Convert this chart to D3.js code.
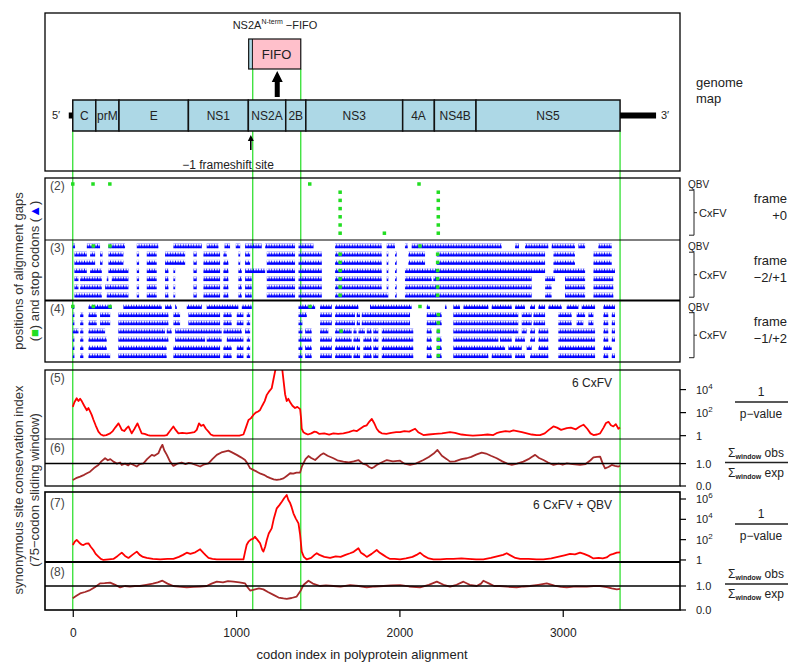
<!DOCTYPE html>
<html><head><meta charset="utf-8">
<script src="https://cdn.jsdelivr.net/npm/d3@7"></script>
<style>body{margin:0;background:#fff} svg{display:block;font-family:"Liberation Sans",Arial,sans-serif}</style>
</head><body><svg id="c" width="800" height="668"></svg>
<script>
// ---------------- data ----------------
const genes = ["C","prM","E","NS1","NS2A","2B","NS3","4A","NS4B","NS5"];
const geneStarts = [0,141,283,708,1075,1304,1427,2020,2214,2469];
const geneEnd = 3351;
const fifoStart = 1077, fifoPink = 1100, fifoEnd = 1396;
const bigArrowCodon = 1252, frameshiftCodon = 1090;
const markerCodons = [0,1102,1396,3351];
const xTicks = [0,1000,2000,3000];
const rowNames = ["QBV","CxFV","CxFV","CxFV","CxFV","CxFV","CxFV"];
const frameLabels = [["frame","+0"],["frame","\u22122/+1"],["frame","\u22121/+2"]];

// stop codons: [row, codon]
const stopsFrame0 = [[0,0],[0,124],[0,227],[0,1451],[0,2120],
  [1,1637],[2,1637],[3,1637],[4,1637],[5,1637],[6,1637],[6,1908],
  [1,2238],[2,2238],[3,2238],[4,2238],[5,2238],[6,2238]];
const stopsFrame21 = [[0,126],[0,228],[0,2126],
  [1,1637],[2,1637],[3,1637],[4,1637],[5,1637],[6,1637],
  [1,2234],[2,2234],[3,2234],[4,2234],[5,2234],[6,2234]];
const stopsFrame12 = [[0,0],[0,126],[0,228],[0,1453],[0,2126],[3,1643],
  [1,2238],[2,2238],[3,2238],[4,2238],[5,2238],[6,2238]];

// alignment gap runs [startCodon, endCodon] per row
const gapsFrame21 = [
 [[0,14],[86,167],[218,320],[392,524],[616,790],[820,892],[929,963],[998,1025],[1055,1157],[1178,1361],[1382,1474],[1606,1892],[1922,1973],[2034,2051],[2075,2626],[2708,2732],[2769,2912],[2932,3075],[3096,3137],[3218,3300]],
 [[10,86],[106,137],[167,182],[218,310],[392,406],[453,514],[565,688],[739,759],[800,902],[922,943],[1014,1025],[1055,1086],[1188,1361],[1382,1525],[1606,1892],[1922,1932],[1973,1983],[2055,2157],[2228,2892],[2943,3075],[3188,3300]],
 [[10,137],[167,182],[218,310],[392,406],[453,514],[565,688],[739,759],[800,902],[922,953],[1014,1025],[1055,1086],[1188,1361],[1382,1525],[1606,1892],[1922,1932],[1973,1983],[2055,2157],[2228,2892],[2943,3075],[3188,3300]],
 [[10,86],[106,178],[218,341],[392,406],[453,514],[565,586],[616,627],[739,759],[800,902],[922,953],[1014,1035],[1055,1178],[1188,1361],[1382,1525],[1606,1892],[1922,1932],[1973,1983],[2034,2892],[2943,3137],[3188,3320]],
 [[10,35],[45,178],[208,218],[239,341],[392,406],[453,514],[565,586],[616,627],[739,759],[800,902],[922,953],[1014,1035],[1055,1096],[1188,1361],[1382,1525],[1606,1892],[1922,1932],[1973,1983],[2034,2198],[2208,2810],[2892,2953],[3014,3137],[3188,3310]],
 [[10,35],[45,178],[198,341],[392,406],[453,514],[565,586],[616,627],[739,759],[800,902],[922,953],[1014,1035],[1055,1096],[1188,1361],[1382,1525],[1606,1892],[1922,1932],[1973,1983],[2034,2810],[2892,2932],[3014,3137],[3188,3310]],
 [[10,178],[208,341],[392,406],[453,514],[565,586],[616,627],[739,759],[800,902],[922,953],[1014,1035],[1055,1096],[1188,1361],[1382,1525],[1606,1932],[1973,1983],[2034,2810],[2892,2932],[3014,3137],[3188,3310]]
];
const gapsFrame12 = [
 [[0,4],[96,239],[310,545],[565,606],[627,637],[698,790],[820,1014],[1035,1096],[1382,1484],[1514,1586],[1606,1749],[1820,2075],[2167,2187],[2279,2289],[2330,2371],[2392,2545],[2565,2688],[2708,2769],[2800,2830],[2851,2892],[2912,2994],[3024,3096],[3116,3198],[3249,3320]],
 [[0,10],[45,65],[96,147],[167,229],[279,586],[616,657],[708,902],[922,973],[1004,1045],[1065,1086],[1382,1433],[1514,1586],[1606,1728],[1738,1759],[1769,2065],[2167,2259],[2330,2728],[2749,2810],[2820,2892],[2973,3055],[3085,3137],[3157,3188],[3249,3279],[3300,3320]],
 [[0,10],[45,65],[96,147],[167,229],[279,586],[616,657],[708,902],[922,973],[1004,1045],[1065,1086],[1382,1406],[1514,1586],[1606,1728],[1738,1759],[1769,2065],[2167,2259],[2330,2728],[2749,2810],[2820,2892],[2973,3055],[3085,3126],[3157,3188],[3249,3279],[3300,3320]],
 [[0,35],[45,65],[96,198],[279,565],[575,606],[627,912],[922,1035],[1055,1086],[1382,1406],[1423,1463],[1514,1565],[1606,1708],[1718,1738],[1749,1789],[1800,1830],[1840,1871],[1892,2085],[2167,2198],[2228,2249],[2330,2728],[2749,2779],[2800,2830],[2851,2912],[2973,3198],[3249,3279],[3300,3320]],
 [[0,10],[45,65],[96,208],[279,586],[627,810],[820,912],[943,1045],[1065,1086],[1382,1463],[1514,1586],[1606,1708],[1718,1759],[1779,1830],[1840,1871],[1892,2085],[2167,2198],[2228,2259],[2330,2606],[2616,2688],[2708,2769],[2800,2830],[2851,2912],[2973,3198],[3249,3279],[3300,3320]],
 [[0,10],[45,65],[96,208],[279,575],[616,902],[922,973],[1004,1045],[1065,1086],[1382,1406],[1423,1463],[1514,1586],[1606,1728],[1738,1759],[1779,1830],[1840,1871],[1892,2085],[2167,2198],[2228,2259],[2330,2647],[2667,2749],[2779,2810],[2851,2912],[2973,3198],[3249,3300]],
 [[0,10],[45,65],[96,229],[279,575],[616,902],[922,973],[1004,1045],[1065,1086],[1382,1406],[1423,1463],[1514,1586],[1606,1708],[1718,1759],[1779,1830],[1840,1871],[1892,2085],[2167,2198],[2228,2259],[2330,2545],[2565,2688],[2708,2769],[2800,2912],[2973,3198],[3249,3279],[3300,3320]]
];

// panel 5: log10(1/p-value), 6 CxFV
const pval6 = [[0,2.5],[10,2.9],[24,3.25],[35,3.0],[45,3.2],[55,3.0],[70,2.6],[86,2.2],[96,2.4],[106,2.1],[116,1.8],[126,1.4],[140,0.9],[157,0.35],[172,0.1],[188,0],[205,0.05],[229,0.2],[245,0.4],[260,0.7],[280,1.07],[290,0.8],[300,0.5],[315,0.4],[330,0.65],[341,0.8],[351,0.5],[361,0.2],[378,0.6],[396,1.07],[410,0.6],[422,0.2],[440,0.15],[460,0.05],[473,0],[500,0],[535,0],[560,0],[576,0.05],[595,0.4],[616,0.8],[630,0.5],[647,0.2],[670,0.25],[698,0.2],[720,0.25],[745,0.3],[759,0.5],[773,1.07],[786,0.85],[800,0.95],[815,0.6],[831,0.35],[845,0.1],[861,0],[900,0],[950,0],[984,0],[1020,0],[1045,0.1],[1060,0.7],[1076,1.36],[1090,1.5],[1106,1.8],[1120,2.0],[1135,2.1],[1147,2.23],[1160,2.6],[1175,3.0],[1188,3.54],[1200,3.8],[1218,4.12],[1229,4.9],[1239,5.6],[1250,6.2],[1265,5.9],[1280,6.1],[1290,4.84],[1300,3.6],[1310,3.0],[1320,3.2],[1331,2.9],[1345,2.6],[1361,2.4],[1375,2.5],[1392,2.3],[1398,1.5],[1402,0.6],[1412,0.3],[1423,0.2],[1440,0.1],[1460,0.2],[1480,0.35],[1494,0.3],[1510,0.15],[1540,0.2],[1570,0.1],[1596,0.2],[1625,0.15],[1657,0.2],[1690,0.3],[1718,0.45],[1740,0.4],[1760,0.6],[1780,0.8],[1800,0.9],[1815,1.2],[1831,1.45],[1845,1.1],[1861,0.6],[1875,0.35],[1892,0.2],[1920,0.15],[1950,0.25],[1980,0.3],[2004,0.3],[2030,0.4],[2060,0.35],[2096,0.6],[2115,0.3],[2147,0.05],[2180,0.1],[2220,0.15],[2260,0.2],[2310,0.3],[2340,0.25],[2380,0.1],[2412,0.05],[2450,0],[2500,0.05],[2540,0.1],[2575,0.05],[2600,0.25],[2616,0.3],[2650,0.4],[2675,0.35],[2698,0.45],[2720,0.4],[2750,0.3],[2780,0.2],[2810,0.1],[2840,0.05],[2861,0.05],[2890,0.2],[2915,0.5],[2943,0.8],[2965,0.7],[2990,0.5],[3025,0.65],[3050,0.7],[3080,0.55],[3105,0.8],[3127,0.95],[3150,0.6],[3170,0.2],[3188,0.05],[3210,0.1],[3229,0.2],[3250,0.7],[3265,1.1],[3280,1.2],[3295,0.9],[3310,0.8],[3325,1.0],[3341,0.6],[3351,0.7]];
// panel 6: obs/exp ratio, 6 CxFV
const ratio6 = [[0,0.27],[20,0.35],[45,0.42],[70,0.5],[90,0.58],[106,0.64],[130,0.8],[157,0.94],[175,1.1],[198,1.24],[215,1.15],[230,1.2],[249,1.09],[270,1.0],[290,1.05],[300,0.94],[320,1.0],[340,0.92],[351,1.01],[370,0.95],[392,0.87],[410,0.98],[433,1.01],[455,1.2],[470,1.3],[484,1.39],[500,1.35],[524,1.46],[538,1.7],[549,1.84],[560,1.6],[576,1.39],[595,1.1],[616,0.9],[640,1.0],[667,1.05],[690,0.98],[710,1.03],[729,1.01],[750,0.95],[780,0.87],[800,0.95],[831,1.01],[855,1.2],[882,1.39],[910,1.5],[935,1.55],[953,1.58],[975,1.5],[1004,1.39],[1030,1.28],[1055,1.16],[1070,1.0],[1086,0.79],[1105,0.72],[1127,0.64],[1150,0.55],[1170,0.5],[1188,0.42],[1210,0.35],[1230,0.3],[1249,0.27],[1270,0.3],[1290,0.34],[1310,0.45],[1331,0.57],[1350,0.55],[1370,0.6],[1392,0.6],[1402,0.85],[1412,1.01],[1425,1.2],[1443,1.34],[1460,1.25],[1484,1.16],[1505,1.3],[1520,1.4],[1535,1.46],[1560,1.35],[1596,1.24],[1620,1.15],[1657,1.09],[1690,1.05],[1720,1.1],[1749,1.16],[1775,1.0],[1800,0.94],[1815,0.85],[1831,0.79],[1845,0.85],[1861,0.94],[1890,1.05],[1923,1.16],[1960,1.1],[2004,1.13],[2030,1.0],[2065,0.94],[2100,1.0],[2147,1.16],[2180,1.3],[2210,1.45],[2233,1.61],[2260,1.35],[2290,1.2],[2310,1.09],[2340,1.1],[2380,1.2],[2412,1.24],[2440,1.3],[2470,1.4],[2504,1.49],[2530,1.45],[2560,1.35],[2596,1.24],[2630,1.1],[2660,1.0],[2688,0.94],[2720,1.0],[2759,1.09],[2790,1.2],[2810,1.3],[2831,1.39],[2855,1.25],[2882,1.16],[2910,1.05],[2943,0.94],[2975,1.0],[3000,0.95],[3025,1.01],[3060,0.98],[3106,0.94],[3140,0.98],[3170,1.15],[3188,1.28],[3210,1.3],[3229,1.31],[3245,1.0],[3259,0.79],[3280,0.85],[3300,0.94],[3320,0.9],[3341,0.87],[3351,0.9]];
// panel 7: log10(1/p-value), 6 CxFV + QBV
const pval7 = [[0,1.47],[12,1.8],[24,1.97],[40,1.7],[55,1.5],[65,1.47],[80,1.6],[96,1.64],[110,1.3],[126,0.98],[140,0.6],[157,0.33],[172,0.1],[188,0],[220,0.05],[249,0.1],[275,0.4],[300,0.72],[320,0.4],[341,0.2],[365,0.5],[392,0.82],[410,0.5],[430,0.3],[453,0.2],[490,0.1],[535,0.05],[580,0.1],[616,0.1],[650,0.3],[675,0.5],[698,0.72],[720,0.6],[750,0.75],[765,0.9],[780,1.05],[800,0.7],[815,0.45],[831,0.2],[855,0.1],[882,0.05],[950,0.05],[1000,0.05],[1045,0.05],[1055,0.8],[1065,1.5],[1076,1.8],[1090,2.0],[1105,2.1],[1116,2.29],[1130,2.0],[1147,1.64],[1160,1.0],[1167,0.82],[1178,1.3],[1188,1.97],[1200,2.6],[1218,3.11],[1230,4.0],[1249,5.08],[1265,5.4],[1280,5.73],[1295,6.1],[1310,6.4],[1320,5.9],[1331,5.6],[1340,5.2],[1351,4.59],[1365,4.1],[1382,3.6],[1392,2.5],[1402,0.82],[1415,0.3],[1433,0.05],[1460,0.2],[1480,0.5],[1494,0.66],[1510,0.5],[1540,0.3],[1576,0.2],[1610,0.35],[1640,0.3],[1670,0.5],[1698,0.66],[1720,0.8],[1749,1.15],[1765,0.7],[1785,0.5],[1800,0.3],[1830,0.6],[1861,0.98],[1880,0.7],[1900,0.5],[1920,0.3],[1943,0.1],[1970,0.1],[2004,0.05],[2040,0.15],[2080,0.3],[2105,0.5],[2126,0.72],[2150,0.4],[2180,0.15],[2208,0.05],[2250,0.05],[2290,0.1],[2331,0.1],[2380,0.15],[2420,0.1],[2470,0.05],[2514,0.05],[2560,0.2],[2610,0.4],[2635,0.5],[2657,0.66],[2680,0.45],[2710,0.2],[2739,0.1],[2790,0.1],[2840,0.05],[2882,0.05],[2930,0.15],[2970,0.3],[3010,0.45],[3045,0.59],[3075,0.55],[3106,0.72],[3130,0.6],[3160,0.4],[3188,0.15],[3220,0.2],[3245,0.15],[3269,0.25],[3290,0.5],[3310,0.6],[3331,0.72],[3351,0.75]];
// panel 8: obs/exp ratio, 6 CxFV + QBV
const ratio7 = [[0,0.49],[20,0.58],[45,0.69],[75,0.75],[106,0.83],[135,0.95],[167,1.11],[195,1.12],[229,1.14],[260,1.05],[290,0.94],[320,1.0],[350,0.97],[380,1.0],[412,1.0],[450,1.05],[490,1.1],[520,1.15],[549,1.22],[580,1.1],[616,1.0],[650,0.97],[698,0.94],[740,0.96],[780,0.98],[820,1.0],[850,1.1],[882,1.18],[920,1.15],[950,1.2],[984,1.18],[1020,1.15],[1055,1.11],[1070,0.95],[1086,0.81],[1110,0.85],[1140,0.9],[1167,0.86],[1195,0.75],[1229,0.63],[1260,0.52],[1290,0.48],[1310,0.46],[1340,0.5],[1371,0.56],[1395,0.8],[1412,1.04],[1443,1.22],[1470,1.1],[1514,1.0],[1550,1.03],[1596,1.0],[1640,0.97],[1698,1.04],[1750,1.0],[1800,0.94],[1850,0.98],[1902,1.0],[1950,1.02],[2004,1.04],[2060,0.98],[2126,0.94],[2180,1.05],[2229,1.18],[2270,1.05],[2310,0.97],[2350,1.05],[2392,1.18],[2430,1.05],[2473,1.0],[2500,1.1],[2514,1.22],[2550,1.1],[2580,1.0],[2616,1.0],[2660,0.97],[2718,0.94],[2760,0.98],[2800,1.0],[2850,1.05],[2902,1.11],[2950,1.02],[2990,0.96],[3025,0.94],[3080,0.98],[3147,0.97],[3190,1.0],[3229,1.0],[3270,0.95],[3300,0.9],[3331,0.86],[3351,0.88]];
const pTicks5 = [0,2,4];
const pTicks7 = [0,2,4,6];
const rTicks = [0,1];

// ---------------- drawing ----------------
const svg = d3.select("#c");
const TXT = "#222", GREEN = "#22dd22", BLUE = "#0000ff";
const xs = d3.scaleLinear().domain([-170,3718]).range([45,680]);
const L = 45, R = 680;

const defs = svg.append("defs");
const pat = defs.append("pattern").attr("id","tri").attr("patternUnits","userSpaceOnUse")
  .attr("x",0).attr("y",-2.5).attr("width",2.6).attr("height",5);
pat.append("path").attr("d","M0,5 L1.3,0 L2.6,5 Z").attr("fill",BLUE);
pat.append("rect").attr("x",0).attr("y",2.5).attr("width",2.6).attr("height",2.5).attr("fill",BLUE);

function clip(id,y0,y1){
  defs.append("clipPath").attr("id",id).append("rect").attr("x",L).attr("y",y0).attr("width",R-L).attr("height",y1-y0);
}

// green marker lines (behind)
const gl = svg.append("g");
markerCodons.forEach((c,i)=>{
  const y0 = (i===1||i===2) ? 69 : 131;
  gl.append("line").attr("x1",xs(c)).attr("x2",xs(c)).attr("y1",y0).attr("y2",610)
    .attr("stroke",GREEN).attr("stroke-width",1.2);
});

// ---- panel 1: genome map ----
svg.append("rect").attr("x",L).attr("y",13).attr("width",R-L).attr("height",158).attr("fill","none").attr("stroke","#000").attr("stroke-width",1.3);
const gm = svg.append("g");
const segs = genes.map((g,i)=>({name:g,s:geneStarts[i],e:i<genes.length-1?geneStarts[i+1]:geneEnd}));
gm.selectAll("rect.seg").data(segs).join("rect").attr("class","seg")
  .attr("x",d=>xs(d.s)).attr("width",d=>xs(d.e)-xs(d.s)).attr("y",100).attr("height",31)
  .attr("fill","#add8e6").attr("stroke","#111").attr("stroke-width",1.5);
gm.selectAll("text.seg").data(segs).join("text").attr("class","seg")
  .attr("x",d=>(xs(d.s)+xs(d.e))/2).attr("y",119.5).attr("text-anchor","middle")
  .attr("font-size",12).attr("fill",TXT).text(d=>d.name);
// UTRs
gm.append("rect").attr("x",xs(0)-4).attr("y",112.5).attr("width",4).attr("height",6).attr("fill","#000");
gm.append("rect").attr("x",xs(geneEnd)).attr("y",112.5).attr("width",36).attr("height",6).attr("fill","#000");
gm.append("text").attr("x",56).attr("y",119).attr("font-size",11).attr("fill",TXT).attr("text-anchor","middle").text("5\u2032");
gm.append("text").attr("x",665).attr("y",119).attr("font-size",11).attr("fill",TXT).attr("text-anchor","middle").text("3\u2032");
// FIFO box
gm.append("rect").attr("x",xs(fifoStart)).attr("y",39).attr("width",xs(fifoPink)-xs(fifoStart)).attr("height",30).attr("fill","#add8e6");
gm.append("rect").attr("x",xs(fifoPink)).attr("y",39).attr("width",xs(fifoEnd)-xs(fifoPink)).attr("height",30).attr("fill","#ffc0cb");
gm.append("rect").attr("x",xs(fifoStart)).attr("y",39).attr("width",xs(fifoEnd)-xs(fifoStart)).attr("height",30).attr("fill","none").attr("stroke","#111").attr("stroke-width",1.2);
gm.append("line").attr("x1",xs(fifoPink)).attr("x2",xs(fifoPink)).attr("y1",39).attr("y2",69).attr("stroke","#111").attr("stroke-width",1);
gm.append("text").attr("x",(xs(fifoPink)+xs(fifoEnd))/2).attr("y",59).attr("text-anchor","middle").attr("font-size",13).attr("fill",TXT).text("FIFO");
const tt = gm.append("text").attr("x",275).attr("y",29).attr("text-anchor","middle").attr("font-size",11).attr("fill",TXT);
tt.append("tspan").text("NS2A");
tt.append("tspan").attr("dy",-5).attr("font-size",7).text("N-term");
tt.append("tspan").attr("dy",5).text(" \u2212FIFO");
// big arrow
const ax = xs(bigArrowCodon);
gm.append("path").attr("d",`M${ax-2.5},97 L${ax-2.5},82 L${ax-5.5},82 L${ax},71 L${ax+5.5},82 L${ax+2.5},82 L${ax+2.5},97 Z`).attr("fill","#000");
// small arrow
const sx = xs(frameshiftCodon);
gm.append("line").attr("x1",sx).attr("x2",sx).attr("y1",150).attr("y2",140).attr("stroke","#000").attr("stroke-width",1.6);
gm.append("path").attr("d",`M${sx-3},141 L${sx},135 L${sx+3},141 Z`).attr("fill","#000");
gm.append("text").attr("x",228).attr("y",169).attr("text-anchor","middle").attr("font-size",12).attr("fill",TXT).text("\u22121 frameshift site");
gm.append("text").attr("x",696).attr("y",87).attr("font-size",13).attr("fill",TXT).text("genome");
gm.append("text").attr("x",696).attr("y",103).attr("font-size",13).attr("fill",TXT).text("map");

// ---- panels 2-4 ----
const framePanels = [
  {top:178, bot:240, gaps:null, stops:stopsFrame0, lab:"(2)"},
  {top:240, bot:300.5, gaps:gapsFrame21, stops:stopsFrame21, lab:"(3)"},
  {top:300.5, bot:362, gaps:gapsFrame12, stops:stopsFrame12, lab:"(4)"}
];
framePanels.forEach((p,k)=>{
  const ry = d3.scaleLinear().domain([0,6]).range([p.top+6, p.top+55.2]);
  if(p.gaps){
    p.gaps.forEach((runs,i)=>{
      const g = svg.append("g").attr("transform",`translate(0,${ry(i)})`);
      g.selectAll("rect").data(runs).join("rect")
        .attr("x",d=>xs(d[0])).attr("width",d=>Math.max(1.5,xs(d[1])-xs(d[0])))
        .attr("y",-2.5).attr("height",5).attr("fill","url(#tri)");
    });
  }
  svg.append("g").selectAll("rect").data(p.stops).join("rect")
    .attr("x",d=>xs(d[1])-1.75).attr("y",d=>ry(d[0])-1.75).attr("width",3.5).attr("height",3.5).attr("fill",GREEN);
  svg.append("text").attr("x",50).attr("y",p.top+12).attr("font-size",12).attr("fill","#444").text(p.lab);
  // right labels
  const rg = svg.append("g").attr("fill",TXT);
  rg.append("text").attr("x",688).attr("y",ry(0)+4).attr("font-size",10).text(rowNames[0]);
  const b0 = ry(1)-2, b1 = ry(6)+2, bm = (b0+b1)/2;
  rg.append("path").attr("d",`M689,${b0} L694,${b0} L694,${b1} L689,${b1} M694,${bm} L697,${bm}`).attr("fill","none").attr("stroke","#222").attr("stroke-width",1);
  rg.append("text").attr("x",699).attr("y",bm+4).attr("font-size",11).text(rowNames[1]);
  rg.append("text").attr("x",787).attr("y",p.top+25).attr("text-anchor","end").attr("font-size",13).text(frameLabels[k][0]);
  rg.append("text").attr("x",787).attr("y",p.top+42).attr("text-anchor","end").attr("font-size",13).text(frameLabels[k][1]);
});
svg.append("rect").attr("x",L).attr("y",178).attr("width",R-L).attr("height",184).attr("fill","none").attr("stroke","#000").attr("stroke-width",1.3);
svg.append("line").attr("x1",L).attr("x2",R).attr("y1",240).attr("y2",240).attr("stroke","#000").attr("stroke-width",1.2);
svg.append("line").attr("x1",L).attr("x2",R).attr("y1",300.5).attr("y2",300.5).attr("stroke","#000").attr("stroke-width",1.8);

// ---- panels 5-8 ----
function curvePanel(data, y0, y1, dom, color, id){
  const ys = d3.scaleLinear().domain(dom).range([y1,y0]);
  clip(id,y0,y1);
  const line = d3.line().x(d=>xs(d[0])).y(d=>ys(d[1])).curve(d3.curveLinear);
  svg.append("path").datum(data).attr("d",line).attr("fill","none").attr("stroke",color)
    .attr("stroke-width",1.8).attr("stroke-linejoin","round").attr("clip-path",`url(#${id})`);
  return ys;
}
function logTicks(ys, ticks){
  const g = svg.append("g");
  ticks.forEach(t=>{
    const y = ys(t);
    g.append("line").attr("x1",R).attr("x2",R+6).attr("y1",y).attr("y2",y).attr("stroke","#000").attr("stroke-width",1.2);
    const tx = g.append("text").attr("x",696).attr("y",y+4).attr("font-size",11).attr("fill",TXT);
    if(t===0) tx.text("1"); else { tx.append("tspan").text("10"); tx.append("tspan").attr("dy",-5).attr("font-size",8).text(t); }
  });
}
function ratioTicks(ys){
  const g = svg.append("g");
  rTicks.forEach(t=>{
    const y = ys(t);
    g.append("line").attr("x1",R).attr("x2",R+6).attr("y1",y).attr("y2",y).attr("stroke","#000").attr("stroke-width",1.2);
    g.append("text").attr("x",696).attr("y",y+4).attr("font-size",11).attr("fill",TXT).text(d3.format(".1f")(t));
  });
  svg.append("line").attr("x1",L).attr("x2",R).attr("y1",ys(1)).attr("y2",ys(1)).attr("stroke","#000").attr("stroke-width",1.5);
}
function frac(cy, top, bot, sigma){
  const g = svg.append("g").attr("fill",TXT);
  if(!sigma){
    g.append("text").attr("x",761).attr("y",cy-6).attr("text-anchor","middle").attr("font-size",12).text(top);
    g.append("line").attr("x1",735).attr("x2",788).attr("y1",cy).attr("y2",cy).attr("stroke","#222").attr("stroke-width",1.5);
    g.append("text").attr("x",761).attr("y",cy+16).attr("text-anchor","middle").attr("font-size",12).text(bot);
  } else {
    [[top,cy-6],[bot,cy+14]].forEach(([w,y])=>{
      const t = g.append("text").attr("x",756).attr("y",y).attr("text-anchor","middle").attr("font-size",12);
      t.append("tspan").text("\u03A3");
      t.append("tspan").attr("dy",2).attr("font-size",7).attr("font-weight","bold").text("window");
      t.append("tspan").attr("dy",-2).text(" "+w);
    });
    g.append("line").attr("x1",725).attr("x2",788).attr("y1",cy).attr("y2",cy).attr("stroke","#222").attr("stroke-width",1.5);
  }
}

const y5 = curvePanel(pval6, 370, 439, [-0.29,5.7], "#ff0000", "c5");
const y6 = curvePanel(ratio6, 439, 486, [0,2.1], "#a52a2a", "c6");
const y7 = curvePanel(pval7, 492, 562, [-0.2,6.69], "#ff0000", "c7");
const y8 = curvePanel(ratio7, 562, 610, [0,2], "#a52a2a", "c8");
logTicks(y5, pTicks5); ratioTicks(y6); logTicks(y7, pTicks7); ratioTicks(y8);

svg.append("rect").attr("x",L).attr("y",370).attr("width",R-L).attr("height",116).attr("fill","none").attr("stroke","#000").attr("stroke-width",1.3);
svg.append("line").attr("x1",L).attr("x2",R).attr("y1",439).attr("y2",439).attr("stroke","#000").attr("stroke-width",1);
svg.append("rect").attr("x",L).attr("y",492).attr("width",R-L).attr("height",118).attr("fill","none").attr("stroke","#000").attr("stroke-width",1.6);
svg.append("line").attr("x1",L).attr("x2",R).attr("y1",562).attr("y2",562).attr("stroke","#000").attr("stroke-width",1.8);

[["(5)",382],["(6)",452],["(7)",507],["(8)",576]].forEach(([t,y])=>{
  svg.append("text").attr("x",50).attr("y",y).attr("font-size",12).attr("fill","#444").text(t);
});
svg.append("text").attr("x",612).attr("y",387).attr("text-anchor","end").attr("font-size",12).attr("fill",TXT).text("6 CxFV");
svg.append("text").attr("x",612).attr("y",509).attr("text-anchor","end").attr("font-size",12).attr("fill",TXT).text("6 CxFV + QBV");

frac(402, "1", "p\u2212value", false);
frac(462.5, "obs", "exp", true);
frac(524, "1", "p\u2212value", false);
frac(584, "obs", "exp", true);

// x axis
const xa = svg.append("g").attr("transform","translate(0,610)")
  .call(d3.axisBottom(xs).tickValues(xTicks).tickSize(7).tickSizeOuter(0).tickFormat(d3.format("d")));
xa.select(".domain").remove();
xa.selectAll("line").attr("stroke","#000").attr("stroke-width",1.2);
xa.selectAll("text").attr("font-size",12).attr("fill",TXT).attr("dy","1.45em").style("font-family","'Liberation Sans',Arial,sans-serif");
svg.append("text").attr("x",362).attr("y",659).attr("text-anchor","middle").attr("font-size",13).attr("fill",TXT).text("codon index in polyprotein alignment");

// left rotated labels
function rot(x, y, build){
  const t = svg.append("text").attr("transform",`translate(${x},${y}) rotate(-90)`).attr("text-anchor","middle").attr("font-size",13).attr("fill","#333");
  build(t);
}
rot(23, 271, t=>t.text("positions of alignment gaps"));
rot(39, 271, t=>{
  t.append("tspan").text("(");
  t.append("tspan").attr("fill",GREEN).text("\u25A0");
  t.append("tspan").text(") and stop codons (");
  t.append("tspan").attr("fill",BLUE).text("\u25B2");
  t.append("tspan").text(")");
});
rot(23, 490, t=>t.text("synonymous site conservation index"));
rot(39, 490, t=>t.text("(75\u2212codon sliding window)"));
</script></body></html>
